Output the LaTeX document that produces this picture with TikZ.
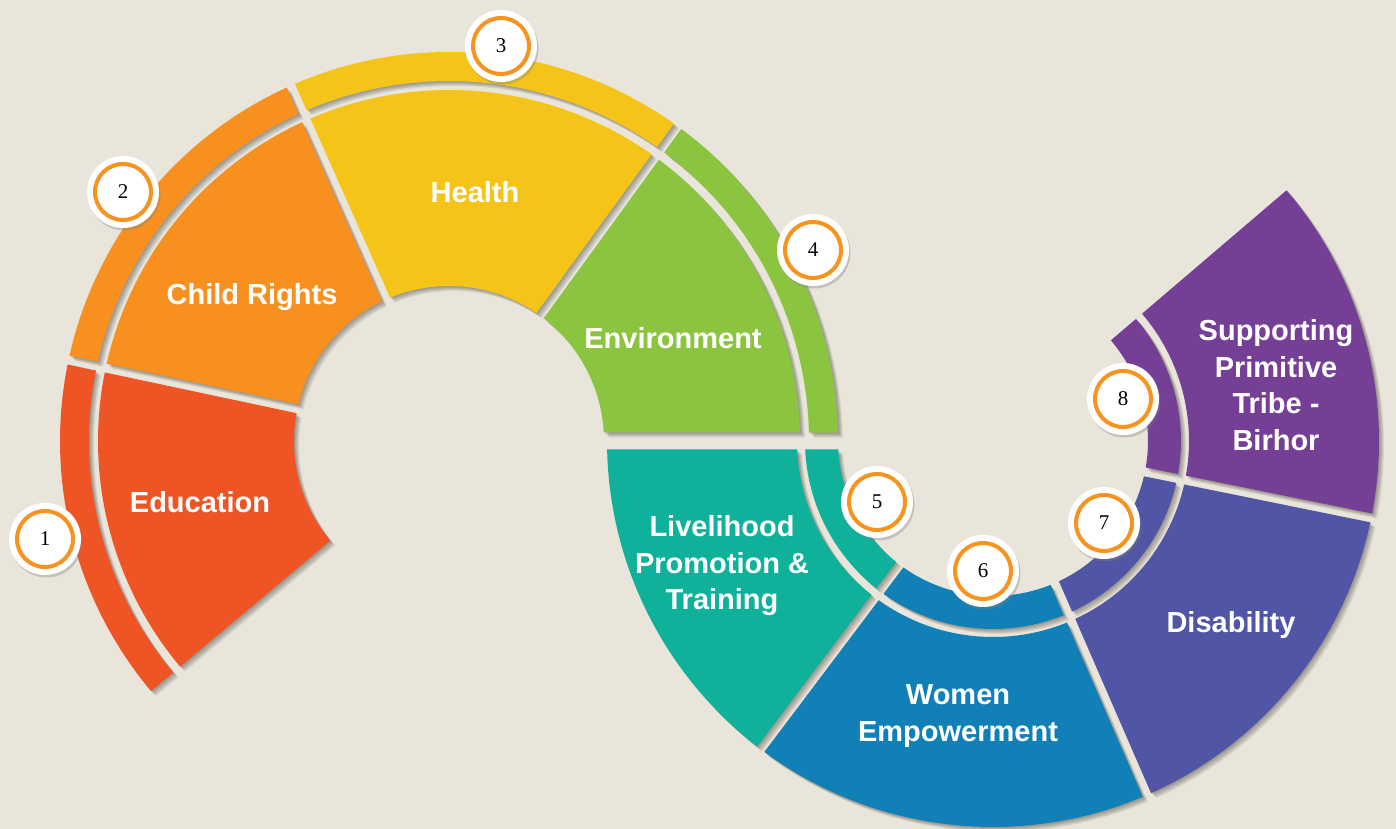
\documentclass[tikz,border=0pt]{standalone}
\usepackage{fontspec}
\usetikzlibrary{calc,shadows}
\newfontfamily\lblfont{Liberation Sans}
\newfontfamily\numfont{Liberation Serif}

\definecolor{bg}{HTML}{E9E5DA}
\definecolor{educ}{HTML}{EF5424}
\definecolor{child}{HTML}{F7901E}
\definecolor{health}{HTML}{F5C419}
\definecolor{envir}{HTML}{8BC53F}
\definecolor{livel}{HTML}{0FB19B}
\definecolor{women}{HTML}{1080B7}
\definecolor{disab}{HTML}{5055A5}
\definecolor{tribe}{HTML}{763F96}
\definecolor{badgeorange}{HTML}{F7931E}

% center x, center y, start angle, start gap, end angle, end gap, inner r, outer r
\newcommand{\ringpart}[8]{%
  ($(#1,#2)+({#3+asin(#4/#8)}:#8)$)
  arc[start angle={#3+asin(#4/#8)}, end angle={#5-asin(#6/#8)}, radius=#8]
  -- ($(#1,#2)+({#5-asin(#6/#7)}:#7)$)
  arc[start angle={#5-asin(#6/#7)}, end angle={#3+asin(#4/#7)}, radius=#7] -- cycle}

\tikzset{
  lbl/.style={text=white, align=center, font=\lblfont\bfseries\fontsize{29}{36.5}\selectfont},
  badge/.style={circle, fill=white, inner sep=0pt, minimum size=72pt,
    font=\numfont\fontsize{21}{21}\selectfont,
    drop shadow={opacity=0.35, shadow xshift=1.5pt, shadow yshift=-2.5pt},
    path picture={\draw[badgeorange, line width=4pt] (path picture bounding box.center) circle[radius=28pt];}}
}

\begin{document}
\begin{tikzpicture}[x=1pt, y=1pt]

	\fill[bg] (0,0) rectangle (1396,829);
	\useasboundingbox (0,0) rectangle (1396,829);

	\def\segs{449/0/8.5/54/4.5/envir/155/351/360/389,
		449/54/4.5/114/4.5/health/155/351/360/389,
		449/114/4.5/168/4.5/child/155/351/360/389,
		449/168/4.5/220/0/educ/155/351/360/389,
		993/180/8.5/233/4.5/livel/196/386/155/188,
		993/233/4.5/293.5/4.5/women/196/386/155/188,
		993/293.5/4.5/348.5/4.5/disab/196/386/155/188,
		993/348.5/4.5/400.5/0/tribe/196/386/155/188}

	% shadows first
	\foreach \cx/\ta/\da/\tb/\db/\col/\ri/\ro/\ti/\to in \segs{
		\foreach \s in {1,...,5}{
			\fill[black, opacity=0.075, shift={(1.0*\s,-1.0*\s)}] \ringpart{\cx}{388}{\ta}{\da}{\tb}{\db}{\ri}{\ro};
			\fill[black, opacity=0.075, shift={(1.0*\s,-1.0*\s)}] \ringpart{\cx}{388}{\ta}{\da}{\tb}{\db}{\ti}{\to};
		}
	}

	% colour segments
	\foreach \cx/\ta/\da/\tb/\db/\col/\ri/\ro/\ti/\to in \segs{
		\fill[\col] \ringpart{\cx}{388}{\ta}{\da}{\tb}{\db}{\ri}{\ro};
		\fill[\col] \ringpart{\cx}{388}{\ta}{\da}{\tb}{\db}{\ti}{\to};
	}

	% labels
	\node[lbl] (edu) at (200,327) {Education};
	\node[lbl] (chr) at (252,532) {Child Rights};
	\node[lbl] (hea) at (475,637) {Health};
	\node[lbl] (env) at (673,491) {Environment};
	\node[lbl] (liv) at (722,263) {Livelihood\\Promotion \&\\Training};
	\node[lbl] (wom) at (958,113) {Women\\Empowerment};
	\node[lbl] (dis) at (1231,204) {Disability};
	\node[lbl] (tri) at (1276,444) {Supporting\\Primitive\\Tribe -\\Birhor};

	% number badges
	\node[badge] (b1) at (45,290) {1};
	\node[badge] (b2) at (123,637) {2};
	\node[badge] (b3) at (501,783) {3};
	\node[badge] (b4) at (813,579) {4};
	\node[badge] (b5) at (877,327) {5};
	\node[badge] (b6) at (983,258) {6};
	\node[badge] (b7) at (1104,306) {7};
	\node[badge] (b8) at (1123,430) {8};

\end{tikzpicture}
\end{document}
